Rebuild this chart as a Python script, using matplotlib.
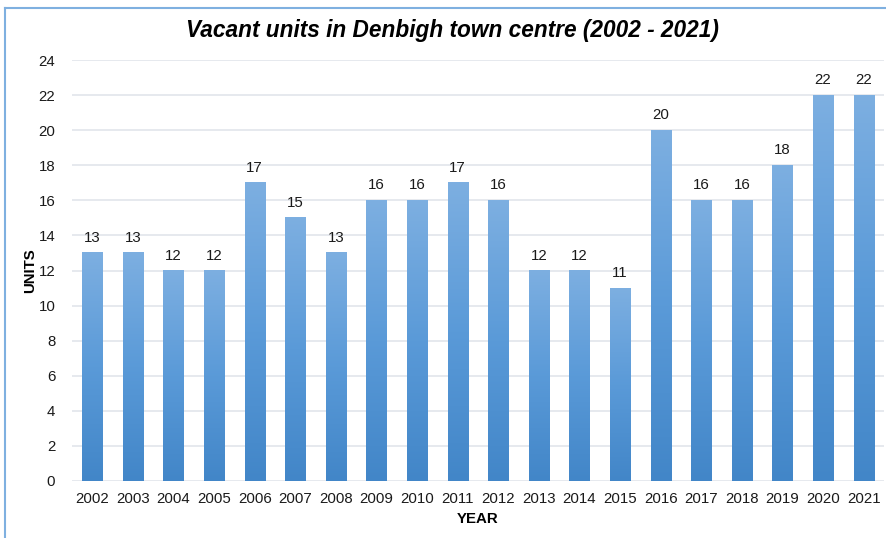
import matplotlib.pyplot as plt
import numpy as np
from matplotlib.colors import LinearSegmentedColormap
from matplotlib.lines import Line2D

years = [str(y) for y in range(2002, 2022)]
units = [13, 13, 12, 12, 17, 15, 13, 16, 16, 17, 16, 12, 12, 11, 20, 16, 16, 18, 22, 22]

plt.rcParams["font.family"] = ["Liberation Sans", "DejaVu Sans"]

fig = plt.figure(figsize=(8.86, 5.38), dpi=100)
ax = fig.add_axes([72 / 886, 1 - 481 / 538, 812 / 886, 421 / 538])

x = np.arange(len(years))
width = 0.5
bars = ax.bar(x, units, width=width, color="none", edgecolor="none", zorder=2)

cmap = LinearSegmentedColormap.from_list("bar", ["#4286c8", "#5a9ad8", "#7dafe1"])
grad = np.linspace(0, 1, 256).reshape(-1, 1)
for b in bars:
    x0, h = b.get_x(), b.get_height()
    ax.imshow(grad, cmap=cmap, origin="lower", aspect="auto",
              extent=(x0, x0 + width, 0, h), zorder=2)
    ax.text(x0 + width / 2, h + 0.45, str(int(h)), ha="center", va="bottom",
            fontsize=10.8, color="#1a1a1a")

ax.set_xlim(-0.5, len(years) - 0.5)
ax.set_ylim(0, 24)
ax.set_yticks(range(0, 25, 2))
ax.set_xticks(x)
ax.set_xticklabels(years)
ax.tick_params(length=0, labelsize=10.8, colors="#1a1a1a", pad=8)
ax.tick_params(axis="y", pad=12)
ax.grid(axis="y", color="#dfe3ea", linewidth=1.1, zorder=0)
ax.set_axisbelow(True)
for s in ax.spines.values():
    s.set_visible(False)

ax.set_ylabel("UNITS", fontsize=10.8, fontweight="bold", labelpad=1)
ax.set_xlabel("YEAR", fontsize=10.8, fontweight="bold", labelpad=4)

fig.text(452 / 886, 1 - 31 / 538, "Vacant units in Denbigh town centre (2002 - 2021)",
         ha="center", va="center", fontsize=16.3, fontweight="bold", style="italic")

# outer frame (left and top edges visible)
fig.add_artist(Line2D([5 / 886, 5 / 886], [0, 1 - 8 / 538], transform=fig.transFigure,
                      color="#7fb0e0", linewidth=1.5))
fig.add_artist(Line2D([5 / 886, 1], [1 - 8 / 538, 1 - 8 / 538], transform=fig.transFigure,
                      color="#7fb0e0", linewidth=1.5))

fig.savefig("out.png", dpi=100)
